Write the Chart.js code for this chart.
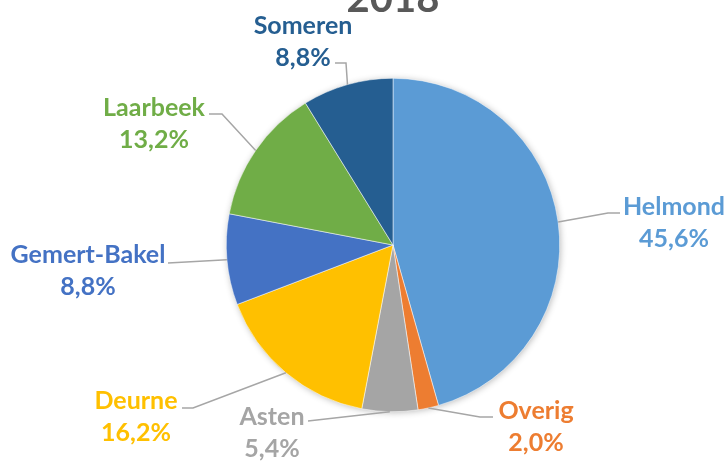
<!DOCTYPE html>
<html lang="nl">
<head>
    <meta charset="UTF-8">
    <title>2018</title>
    <script src="https://cdn.jsdelivr.net/npm/chart.js"></script>
    <style>
        html, body { margin: 0; padding: 0; background: #fff; }
        #wrap { width: 728px; height: 461px; }
    </style>
</head>
<body>
    <div id="wrap"><canvas id="taart"></canvas></div>

    <script>
        // gegevens
        var titel = '2018';
        var gemeenten = ['Helmond', 'Overig', 'Asten', 'Deurne', 'Gemert-Bakel', 'Laarbeek', 'Someren'];
        var aandeel = [45.6, 2.0, 5.4, 16.2, 8.8, 13.2, 8.8];
        var kleuren = ['#5B9BD5', '#ED7D31', '#A5A5A5', '#FFC000', '#4472C4', '#70AD47', '#255E91'];

        // plaats van de labels t.o.v. het midden van de taart: [tekst x, tekst y, knik x, knik y, eind x, eind y]
        var labelPlek = [
            [281, -38, 215, -32, 227, -32],
            [143, 166, 87, 172, 100, 172],
            [-121, 172, -85, 176, -85, 176],
            [-257, 156, -200, 163, -211, 163],
            [-305, 10, -225, 18, -225, 18],
            [-239, -137, -171, -131, -184, -131],
            [-90, -219, -47, -182, -58, -182]
        ];

        var lettertype = 'Lato, "Open Sans", sans-serif';

        function pct(v) {
            return v.toFixed(1).replace('.', ',') + '%';
        }

        var labelPlugin = {
            id: 'labels',
            beforeDatasetsDraw: function (chart) {
                // zachte schaduw onder de taart
                var arc = chart.getDatasetMeta(0).data[0];
                var ctx = chart.ctx;
                ctx.save();
                ctx.shadowColor = 'rgba(0,0,0,0.30)';
                ctx.shadowBlur = 7;
                ctx.shadowOffsetX = 1;
                ctx.shadowOffsetY = 1;
                ctx.fillStyle = '#fff';
                ctx.beginPath();
                ctx.arc(arc.x, arc.y, arc.outerRadius - 0.5, 0, Math.PI * 2);
                ctx.fill();
                ctx.restore();
            },
            afterDraw: function (chart) {
                var ctx = chart.ctx;
                var bogen = chart.getDatasetMeta(0).data;
                ctx.save();

                // titel (valt grotendeels boven de rand)
                ctx.fillStyle = '#595959';
                ctx.font = 'bold 40px ' + lettertype;
                ctx.textAlign = 'center';
                ctx.textBaseline = 'alphabetic';
                ctx.fillText(titel, 393, 12);

                bogen.forEach(function (b, i) {
                    var cx = b.x, cy = b.y;
                    var mid = (b.startAngle + b.endAngle) / 2;
                    var rx = cx + Math.cos(mid) * b.outerRadius;
                    var ry = cy + Math.sin(mid) * b.outerRadius;
                    var p = labelPlek[i];

                    ctx.strokeStyle = '#A6A6A6';
                    ctx.lineWidth = 1.5;
                    ctx.beginPath();
                    ctx.moveTo(rx, ry);
                    ctx.lineTo(cx + p[2], cy + p[3]);
                    ctx.lineTo(cx + p[4], cy + p[5]);
                    ctx.stroke();

                    ctx.fillStyle = kleuren[i];
                    ctx.font = 'bold 25px ' + lettertype;
                    ctx.textAlign = 'center';
                    ctx.textBaseline = 'middle';
                    ctx.fillText(gemeenten[i], cx + p[0], cy + p[1]);
                    ctx.fillText(pct(aandeel[i]), cx + p[0], cy + p[1] + 32);
                });
                ctx.restore();
            }
        };

        new Chart(document.getElementById('taart'), {
            type: 'pie',
            data: {
                labels: gemeenten,
                datasets: [{
                    data: aandeel,
                    backgroundColor: kleuren,
                    borderColor: '#ffffff',
                    borderWidth: 0.5
                }]
            },
            options: {
                responsive: true,
                maintainAspectRatio: false,
                animation: false,
                layout: {
                    padding: { left: 226, right: 168, top: 78, bottom: 49 }
                },
                plugins: {
                    legend: { display: false },
                    tooltip: { enabled: false }
                }
            },
            plugins: [labelPlugin]
        });
    </script>
</body>
</html>
